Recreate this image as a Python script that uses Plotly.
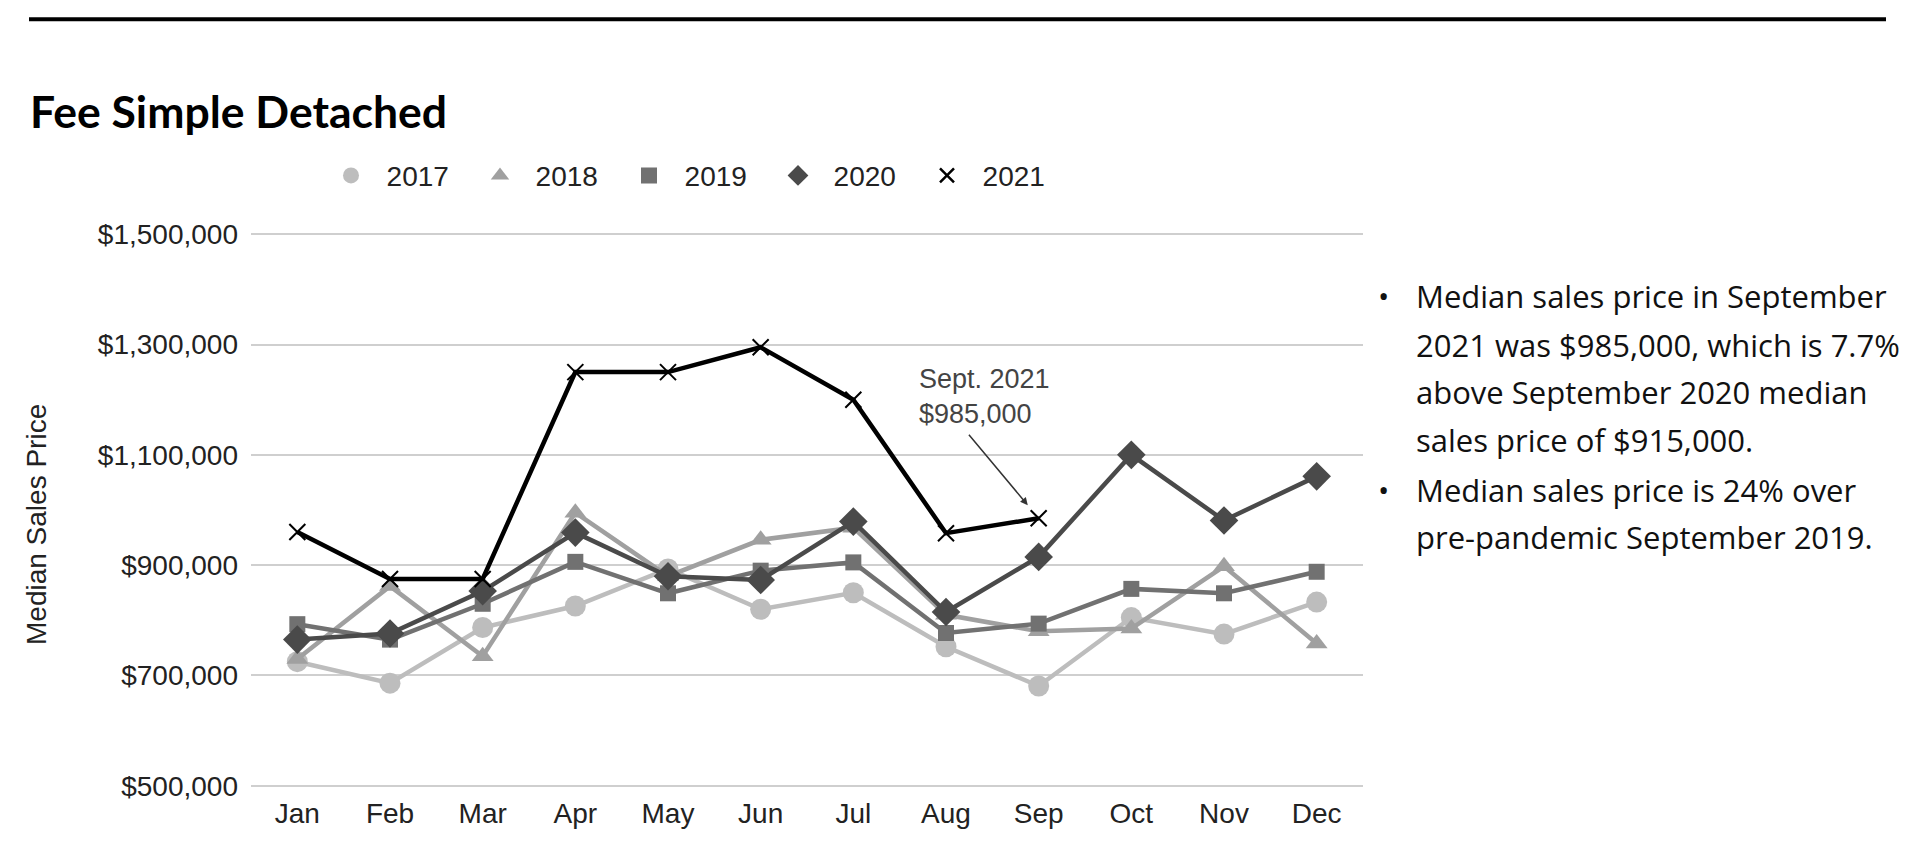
import plotly.graph_objects as go

months = ["Jan", "Feb", "Mar", "Apr", "May", "Jun", "Jul", "Aug", "Sep", "Oct", "Nov", "Dec"]
y2017 = [725000, 686000, 787000, 826000, 893000, 820000, 850000, 752000, 681000, 805000, 775000, 833000]
y2018 = [730000, 862000, 735000, 995000, 880000, 946000, 968000, 810000, 780000, 785000, 898000, 758000]
y2019 = [793000, 765000, 830000, 906000, 849000, 890000, 905000, 777000, 794000, 857000, 849000, 888000]
y2020 = [765000, 776000, 853000, 959000, 880000, 873000, 979000, 815000, 915000, 1100000, 981000, 1061000]
y2021 = [960000, 875000, 875000, 1250000, 1250000, 1295000, 1200000, 958000, 985000, None, None, None]
series_names = ["2017", "2018", "2019", "2020", "2021"]

AX_FONT = "Liberation Sans, Arial, sans-serif"
TXT_FONT = "Open Sans, sans-serif"
TITLE_FONT = "Lato, sans-serif"

styles = {
    "2017": dict(color="#bdbdbd", symbol="circle", size=21),
    "2018": dict(color="#a0a0a0", symbol="triangle-up", size=19),
    "2019": dict(color="#717171", symbol="square", size=16),
    "2020": dict(color="#4a4a4a", symbol="diamond", size=22),
}

fig = go.Figure()
for name, vals in zip(series_names[:4], [y2017, y2018, y2019, y2020]):
    st = styles[name]
    fig.add_trace(go.Scatter(
        x=months, y=vals, name=name, mode="lines+markers", showlegend=False,
        line=dict(color=st["color"], width=4.5),
        marker=dict(symbol=st["symbol"], size=st["size"], color=st["color"]),
    ))
fig.add_trace(go.Scatter(
    x=months, y=y2021, name="2021", mode="lines+markers", showlegend=False,
    line=dict(color="#000000", width=4.5),
    marker=dict(symbol="x-thin", size=16, color="#000000",
                line=dict(color="#000000", width=2)),
))
# legend entries (markers only, as in the reference legend)
for name in series_names[:4]:
    st = styles[name]
    fig.add_trace(go.Scatter(
        x=[None], y=[None], name="\u00a0\u00a0" + name, mode="markers",
        marker=dict(symbol=st["symbol"], size=st["size"] + 6, color=st["color"]),
    ))
fig.add_trace(go.Scatter(
    x=[None], y=[None], name="\u00a0\u00a02021", mode="markers",
    marker=dict(symbol="x-thin", size=14, color="#000000",
                line=dict(color="#000000", width=2.5)),
))

# page body has an 8px margin: the figure sits at (8, 8) on screen
OFF = 8
W, H = 1920 - OFF, 846 - OFF
YMIN, YMAX = 500000, 1500000
YPAD = 4000
G_TOP, G_BOT = 234, 786          # screen y of the $1.5M and $500k gridlines
scale = (G_BOT - G_TOP) / (YMAX - YMIN)
SL, SR = 251, 1363
ST = G_TOP - YPAD * scale
SB = G_BOT + YPAD * scale
L, R, T, B = SL - OFF, SR - OFF, ST - OFF, SB - OFF
PW, PH = R - L, B - T


def px(x):
    return (x - OFF - L) / PW


def py(y):
    return (B - (y - OFF)) / PH


annotations = []
annotations.append(dict(
    text="<b>Fee Simple Detached</b>", xref="paper", yref="paper",
    x=px(28), y=py(110), xanchor="left", yanchor="middle", showarrow=False,
    font=dict(family=TITLE_FONT, size=44.5, color="#000000"),
))
annotations.append(dict(
    text="Median Sales Price", xref="paper", yref="paper", textangle=-90,
    x=px(37), y=py(525), xanchor="center", yanchor="middle", showarrow=False,
    font=dict(family=AX_FONT, size=28, color="#222222"),
))
annotations.append(dict(
    text="Sept. 2021<br>$985,000", xref="x", yref="y", x="Sep", y=985000,
    xshift=-122, yshift=122, xanchor="left", yanchor="middle", align="left",
    showarrow=False, font=dict(family=AX_FONT, size=27, color="#444444"),
))
annotations.append(dict(
    text="", xref="x", yref="y", x="Sep", y=985000, ax=-71, ay=-85,
    showarrow=True, arrowhead=2, arrowsize=1, arrowwidth=1.5,
    arrowcolor="#333333", standoff=17,
))
lines = [
    ("Median sales price in September", True),
    ("2021 was $985,000, which is 7.7%", False),
    ("above September 2020 median", False),
    ("sales price of $915,000.", False),
    ("Median sales price is 24% over", True),
    ("pre-pandemic September 2019.", False),
]
line_y = [295.5, 344.5, 391.5, 439.5, 489.5, 537.5]
for (txt, bullet), yy in zip(lines, line_y):
    annotations.append(dict(
        text=txt, xref="paper", yref="paper", x=px(1414), y=py(yy),
        xanchor="left", yanchor="middle", showarrow=False,
        font=dict(family=TXT_FONT, size=31, color="#111111"),
    ))
    if bullet:
        annotations.append(dict(
            text="•", xref="paper", yref="paper", x=px(1383), y=py(yy),
            xanchor="center", yanchor="middle", showarrow=False,
            font=dict(family=TXT_FONT, size=30, color="#111111"),
        ))

fig.update_layout(
    width=W, height=H,
    margin=dict(l=L, r=W - R, t=T, b=H - B, pad=0),
    paper_bgcolor="white", plot_bgcolor="white",
    showlegend=True,
    legend=dict(
        orientation="h", x=px(331), y=py(175.5), xanchor="left", yanchor="middle",
        font=dict(family=AX_FONT, size=28, color="#222222"),
        entrywidth=104, entrywidthmode="pixels", bgcolor="rgba(0,0,0,0)",
        itemsizing="trace",
    ),
    annotations=annotations,
    shapes=[dict(type="line", xref="paper", yref="paper",
                 x0=px(29), x1=px(1886), y0=py(19), y1=py(19),
                 line=dict(color="#000000", width=4))],
    xaxis=dict(
        range=[-0.5, 11.5],
        showgrid=False, showline=False, zeroline=False, ticks="",
        tickfont=dict(family=AX_FONT, size=28, color="#222222"),
        ticklabelstandoff=6,
    ),
    yaxis=dict(
        range=[YMIN - YPAD, YMAX + YPAD], dtick=200000, tick0=YMIN,
        tickformat="$,.0f", showgrid=True, gridcolor="#cfcfcf", gridwidth=2,
        zeroline=False, showline=False, ticks="",
        tickfont=dict(family=AX_FONT, size=28, color="#222222"),
        ticklabelstandoff=12,
    ),
)

fig.write_html("out.html")
